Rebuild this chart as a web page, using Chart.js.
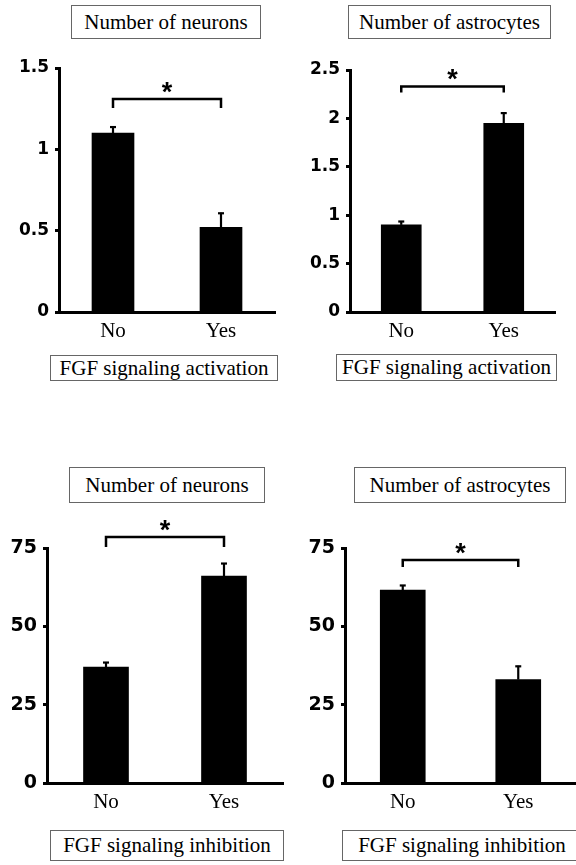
<!DOCTYPE html>
<html>
<head>
<meta charset="utf-8">
<script src="https://cdn.jsdelivr.net/npm/chart.js@4/dist/chart.umd.min.js"></script>
<style>
  html, body { margin: 0; padding: 0; background: #fff; }
  #page { position: relative; width: 576px; height: 865px; overflow: hidden; background: #fff; }
  canvas { position: absolute; }
  .box { position: absolute; box-sizing: border-box; border: 1px solid #666; background: #fff;
         display: flex; align-items: center; justify-content: center;
         font-family: 'Liberation Serif', 'Times New Roman', serif; font-size: 21px; color: #000; white-space: nowrap; }
</style>
</head>
<body>
<div id="page">
  <canvas id="c0" width="288" height="345" style="left:0px;top:0px;"></canvas>
  <canvas id="c1" width="288" height="345" style="left:288px;top:0px;"></canvas>
  <canvas id="c2" width="288" height="385" style="left:0px;top:430px;"></canvas>
  <canvas id="c3" width="288" height="385" style="left:288px;top:430px;"></canvas>

  <div class="box" id="t0" style="left:71px;top:5px;width:190px;height:34px;"></div>
  <div class="box" id="t1" style="left:348px;top:5px;width:203px;height:34px;"></div>
  <div class="box" id="t2" style="left:69px;top:467px;width:196px;height:36px;"></div>
  <div class="box" id="t3" style="left:354px;top:467px;width:212px;height:36px;"></div>

  <div class="box" id="x0" style="left:50px;top:355px;width:228px;height:26px;"></div>
  <div class="box" id="x1" style="left:336px;top:354px;width:221px;height:27px;"></div>
  <div class="box" id="x2" style="left:50px;top:830px;width:234px;height:31px;"></div>
  <div class="box" id="x3" style="left:342px;top:830px;width:240px;height:31px;"></div>
</div>
<script>
// ---- data ----
const categories = ['No', 'Yes'];

const neuronsActivation      = [1.10, 0.52];
const neuronsActivationErr   = [0.04, 0.09];
const astrocytesActivation    = [0.90, 1.95];
const astrocytesActivationErr = [0.04, 0.11];
const neuronsInhibition      = [37.0, 66.0];
const neuronsInhibitionErr   = [1.6, 4.2];
const astrocytesInhibition    = [61.6, 33.0];
const astrocytesInhibitionErr = [1.6, 4.4];

const panelTitles = ['Number of neurons', 'Number of astrocytes', 'Number of neurons', 'Number of astrocytes'];
const xTitles = ['FGF signaling activation', 'FGF signaling activation', 'FGF signaling inhibition', 'FGF signaling inhibition'];

const yMaxes = [1.5, 2.5, 75, 75];
const ySteps = [0.5, 0.5, 25, 25];
const bracketLevels = [1.31, 2.33, 78.5, 71.2];
const significance = ['*', '*', '*', '*'];

const panelValues = [neuronsActivation, astrocytesActivation, neuronsInhibition, astrocytesInhibition];
const panelErrors = [neuronsActivationErr, astrocytesActivationErr, neuronsInhibitionErr, astrocytesInhibitionErr];

// ---- layout / style (not data) ----
const layouts = [
  { pad: { left: 19, top: 68, right: 13, bottom: 0 }, xh: 33, bar: 42, tickFont: 17, drop: 9 },
  { pad: { left: 22, top: 70, right: 21, bottom: 0 }, xh: 33, bar: 40, tickFont: 17, drop: 6 },
  { pad: { left: 7,  top: 118, right: 5, bottom: 0 }, xh: 32, bar: 45, tickFont: 19, drop: 10 },
  { pad: { left: 17, top: 118, right: 0, bottom: 0 }, xh: 32, bar: 45, tickFont: 19, drop: 7 }
];

const annotPlugin = {
  id: 'annot',
  afterDatasetsDraw(chart, args, opts) {
    const { ctx } = chart;
    const y = chart.scales.y;
    const meta = chart.getDatasetMeta(0);
    ctx.save();
    ctx.strokeStyle = '#000';
    ctx.fillStyle = '#000';
    // upper error bars
    opts.errors.forEach((e, i) => {
      const el = meta.data[i];
      const yTop = y.getPixelForValue(opts.values[i]);
      const yErr = y.getPixelForValue(opts.values[i] + e);
      ctx.lineWidth = 2.2;
      ctx.beginPath();
      ctx.moveTo(el.x, yTop);
      ctx.lineTo(el.x, yErr);
      ctx.stroke();
      ctx.beginPath();
      ctx.moveTo(el.x - 3, yErr + 0.5);
      ctx.lineTo(el.x + 3, yErr + 0.5);
      ctx.stroke();
    });
    // significance bracket
    const x0 = meta.data[0].x, x1 = meta.data[1].x;
    const yb = y.getPixelForValue(opts.bracket);
    ctx.lineWidth = 2.5;
    ctx.lineJoin = 'miter';
    ctx.beginPath();
    ctx.moveTo(x0, yb + opts.drop);
    ctx.lineTo(x0, yb);
    ctx.lineTo(x1, yb);
    ctx.lineTo(x1, yb + opts.drop);
    ctx.stroke();
    ctx.font = 'bold 27px "Liberation Sans", Arial, sans-serif';
    ctx.textAlign = 'center';
    ctx.textBaseline = 'alphabetic';
    ctx.fillText(opts.label, (x0 + x1) / 2, yb + 2);
    ctx.restore();
  }
};

for (let i = 0; i < 4; i++) {
  document.getElementById('t' + i).textContent = panelTitles[i];
  document.getElementById('x' + i).textContent = xTitles[i];
  const L = layouts[i];
  new Chart(document.getElementById('c' + i), {
    type: 'bar',
    data: {
      labels: categories,
      datasets: [{
        data: panelValues[i],
        backgroundColor: '#000',
        borderWidth: 0,
        barThickness: L.bar
      }]
    },
    options: {
      responsive: false,
      animation: false,
      devicePixelRatio: 1,
      layout: { padding: L.pad },
      plugins: {
        legend: { display: false },
        tooltip: { enabled: false },
        annot: { values: panelValues[i], errors: panelErrors[i], bracket: bracketLevels[i], drop: L.drop, label: significance[i] }
      },
      scales: {
        x: {
          offset: true,
          grid: { display: false, drawTicks: false },
          border: { display: true, color: '#000', width: 3 },
          ticks: { color: '#000', padding: 7, font: { family: "'Liberation Serif', 'Times New Roman', serif", size: 21 } },
          afterFit: (s) => { s.height = L.xh; }
        },
        y: {
          min: 0,
          max: yMaxes[i],
          ticks: { stepSize: ySteps[i], color: '#000', padding: 6,
                   callback: (v) => String(Math.round(v * 100) / 100),
                   font: { family: "'DejaVu Sans', sans-serif", weight: 'bold', size: L.tickFont } },
          grid: { display: true, drawOnChartArea: false, drawTicks: true, tickLength: 4, tickWidth: 3, tickColor: '#000' },
          border: { display: true, color: '#000', width: 3 },
          afterFit: (s) => { s.width = 40; }
        }
      }
    },
    plugins: [annotPlugin]
  });
}
</script>
</body>
</html>
